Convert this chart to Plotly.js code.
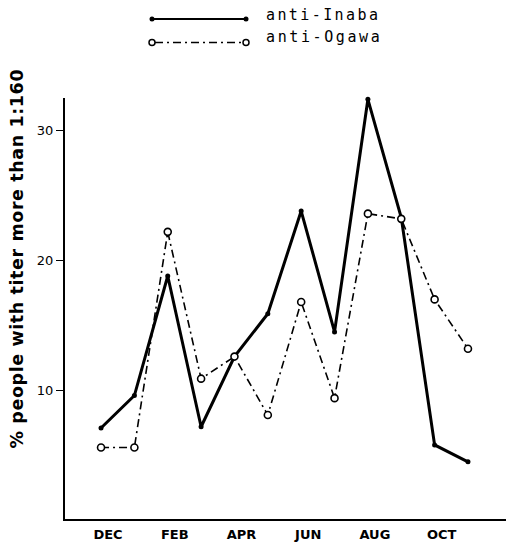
<!DOCTYPE html>
<html>
<head>
<meta charset="utf-8">
<script src="https://cdn.plot.ly/plotly-3.0.1.min.js"></script>
<style>
  html, body { margin: 0; padding: 0; background: #fff; }
  #chart { width: 508px; height: 545px; }
</style>
</head>
<body>
<div id="chart"></div>
<script>
// ---- data ----
const months = ['DEC','JAN','FEB','MAR','APR','MAY','JUN','JUL','AUG','SEP','OCT','NOV'];
const inaba  = [7.1, 9.6, 18.8, 7.2, 12.6, 15.9, 23.8, 14.5, 32.4, 23.3, 5.8, 4.5];
const ogawa  = [5.6, 5.6, 22.2, 10.9, 12.6, 8.1, 16.8, 9.4, 23.6, 23.2, 17.0, 13.2];
const tickMonths = ['DEC','FEB','APR','JUN','AUG','OCT'];
const yTicks = [10, 20, 30];
const seriesNames = ['anti-Inaba', 'anti-Ogawa'];
const yTitle = '% people with titer more than 1:160';

// ---- layout helpers (pixel -> paper) ----
const L = 65, T = 98, W = 441, H = 421;
const px = x => (x - L) / W;
const py = y => (T + H - y) / H;

const dashDot = '8px,4px,2px,4px';

const traces = [
  {
    x: months, y: inaba, name: seriesNames[0], type: 'scatter', mode: 'lines+markers',
    line: { color: '#000', width: 3 },
    marker: { color: '#000', size: 5, symbol: 'circle' },
    cliponaxis: false, showlegend: false
  },
  {
    x: months, y: ogawa, name: seriesNames[1], type: 'scatter', mode: 'lines+markers',
    line: { color: '#000', width: 1.6, dash: dashDot },
    marker: { color: '#fff', size: 7, symbol: 'circle', line: { color: '#000', width: 1.6 } },
    cliponaxis: false, showlegend: false
  }
];

function dot(xp, yp, r, filled) {
  return {
    type: 'circle', xref: 'paper', yref: 'paper', xsizemode: 'pixel', ysizemode: 'pixel',
    xanchor: px(xp), yanchor: py(yp), x0: -r, x1: r, y0: -r, y1: r,
    fillcolor: filled ? '#000' : '#fff', line: { color: '#000', width: filled ? 0 : 1.5 }
  };
}

const shapes = [
  { type: 'line', xref: 'paper', yref: 'paper', x0: px(152), x1: px(246), y0: py(19), y1: py(19),
    line: { color: '#000', width: 2 } },
  dot(152, 19, 2.5, true), dot(246, 19, 2.5, true),
  { type: 'line', xref: 'paper', yref: 'paper', x0: px(155), x1: px(243), y0: py(42.5), y1: py(42.5),
    line: { color: '#000', width: 1.5, dash: dashDot } },
  dot(152, 42.5, 3, false), dot(246, 42.5, 3, false)
];

const annotations = [
  { text: yTitle, xref: 'paper', yref: 'paper', x: px(17), y: py(259), xanchor: 'center', yanchor: 'middle',
    textangle: -90, showarrow: false,
    font: { family: 'DejaVu Sans', size: 17.5, color: '#000', weight: 'bold' } },
  { text: seriesNames[0], xref: 'paper', yref: 'paper', x: px(276), y: py(15.5), xanchor: 'left', yanchor: 'middle',
    showarrow: false, font: { family: 'DejaVu Sans Mono', size: 15, color: '#000' } },
  { text: seriesNames[1], xref: 'paper', yref: 'paper', x: px(277), y: py(36.5), xanchor: 'left', yanchor: 'middle',
    showarrow: false, font: { family: 'DejaVu Sans Mono', size: 15, color: '#000' } }
];

const layout = {
  width: 508, height: 545,
  margin: { l: L, r: 508 - L - W, t: T, b: 545 - T - H, pad: 0 },
  paper_bgcolor: '#fff', plot_bgcolor: '#fff',
  font: { family: 'DejaVu Sans', color: '#000' },
  showlegend: false,
  xaxis: {
    type: 'category', categoryarray: months, range: [-1.08, 12.14],
    tickvals: tickMonths, ticktext: tickMonths, ticks: '', ticklabelshift: 7, ticklabelstandoff: 2,
    showline: true, linecolor: '#000', linewidth: 2, showgrid: false, zeroline: false,
    tickfont: { family: 'DejaVu Sans', size: 13, color: '#000', weight: 'bold' }
  },
  yaxis: {
    range: [0.1, 32.5], tickvals: yTicks, ticks: 'outside', ticklen: 7, tickwidth: 1.5, tickcolor: '#000',
    showline: true, linecolor: '#000', linewidth: 2, showgrid: false, zeroline: false,
    tickfont: { family: 'DejaVu Sans', size: 13, color: '#000' }
  },
  shapes: shapes,
  annotations: annotations
};

Plotly.newPlot('chart', traces, layout, { displayModeBar: false, staticPlot: true }).then(gd => {
  // widen letter spacing of the texts to match the typewriter look of the original
  const spacing = { '0': 0.6, '1': 2.4, '2': 2.6 };
  gd.querySelectorAll('g.annotation').forEach(g => {
    const idx = g.getAttribute('data-index');
    const t = g.querySelector('text.annotation-text');
    if (!t || !(idx in spacing)) return;
    t.setAttribute('letter-spacing', spacing[idx]);
    t.style.letterSpacing = spacing[idx] + 'px';
  });
});
</script>
</body>
</html>
